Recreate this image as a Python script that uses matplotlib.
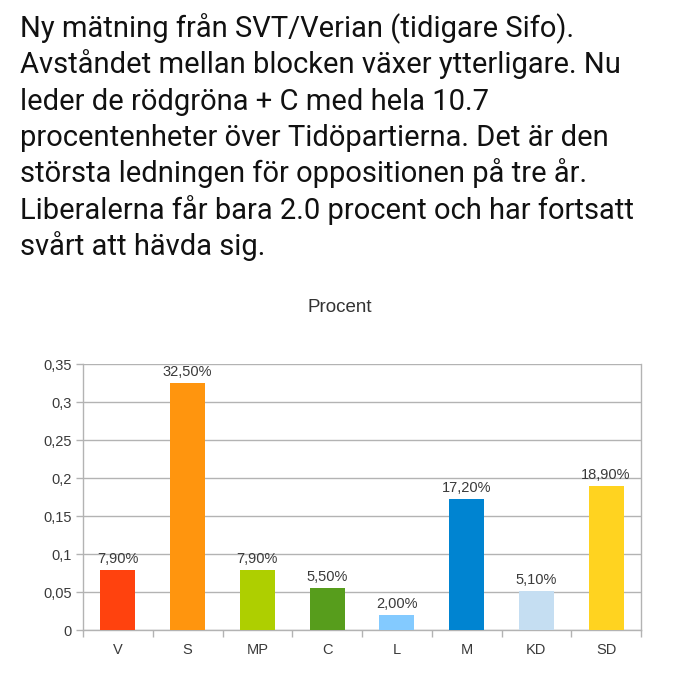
import matplotlib
matplotlib.use("Agg")
import matplotlib.pyplot as plt
import numpy as np

# ---- data ----
parties = ["V", "S", "MP", "C", "L", "M", "KD", "SD"]
shares = [0.079, 0.325, 0.079, 0.055, 0.020, 0.172, 0.051, 0.189]
bar_labels = ["7,90%", "32,50%", "7,90%", "5,50%", "2,00%", "17,20%", "5,10%", "18,90%"]
colors = ["#ff420e", "#ff950e", "#aecf00", "#579d1c", "#83caff", "#0084d1", "#c5def2", "#ffd320"]
yticks = [0, 0.05, 0.1, 0.15, 0.2, 0.25, 0.3, 0.35]
ytick_labels = ["0", "0,05", "0,1", "0,15", "0,2", "0,25", "0,3", "0,35"]
chart_title = "Procent"
text_lines = [
    "Ny mätning från SVT/Verian (tidigare Sifo).",
    "Avståndet mellan blocken växer ytterligare. Nu",
    "leder de rödgröna + C med hela 10.7",
    "procentenheter över Tidöpartierna. Det är den",
    "största ledningen för oppositionen på tre år.",
    "Liberalerna får bara 2.0 procent och har fortsatt",
    "svårt att hävda sig.",
]

W, H = 679, 680
fig = plt.figure(figsize=(W / 100, H / 100), dpi=100)
fig.patch.set_facecolor("white")

# header text
baselines = [37, 73, 110, 146, 182, 219, 255]
for line, b in zip(text_lines, baselines):
    fig.text(20 / W, 1 - b / H, line, fontsize=21, family="Roboto",
             color="#111111", ha="left", va="baseline")

# chart
left, right, top, bottom = 83, 641, 364, 630
ax = fig.add_axes([left / W, 1 - bottom / H, (right - left) / W, (bottom - top) / H])
x = np.arange(len(parties))
ax.bar(x, shares, width=0.5, color=colors, zorder=3)
ax.set_xlim(-0.5, len(parties) - 0.5)
ax.set_ylim(0, 0.35)

grid_c = "#b3b3b3"
txt_c = "#3a3a3a"
fs = 10.5
ax.set_yticks(yticks)
ax.set_yticklabels(ytick_labels, family="Liberation Sans", fontsize=fs, color=txt_c)
ax.yaxis.grid(True, color=grid_c, linewidth=1, zorder=0)
ax.tick_params(axis="y", length=5, color=grid_c, width=1, pad=3)

ax.set_xticks(x)
ax.set_xticklabels(parties, family="Liberation Sans", fontsize=fs, color=txt_c)
ax.tick_params(axis="x", length=0, pad=9)
ax.set_xticks(np.arange(-0.5, len(parties), 1), minor=True)
ax.tick_params(axis="x", which="minor", length=5, color=grid_c, width=1)

ax.spines["top"].set_visible(False)
for side in ["left", "right", "bottom"]:
    ax.spines[side].set_color(grid_c)
    ax.spines[side].set_linewidth(1)

for xi, v, lab in zip(x, shares, bar_labels):
    ax.annotate(lab, (xi, v), xytext=(0, 3), textcoords="offset points",
                ha="center", va="bottom", family="Liberation Sans",
                fontsize=fs, color=txt_c)

fig.text(340 / W, 1 - 308 / H, chart_title, family="Liberation Sans",
         fontsize=13.5, color="#333333", ha="center", va="center")

fig.savefig("out.png", dpi=100)
